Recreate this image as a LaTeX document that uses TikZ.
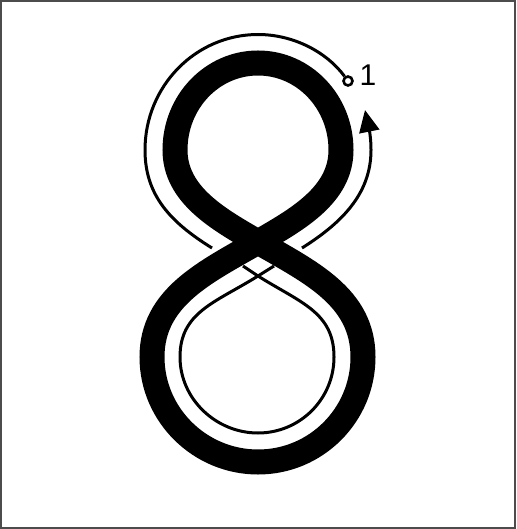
\documentclass[tikz,border=0pt]{standalone}
\usepackage{fontspec}
\setmainfont{Liberation Sans}
\usetikzlibrary{arrows.meta, positioning}

\begin{document}
\begin{tikzpicture}[
  x=1pt, y=-1pt,
  frame/.style={draw=black!70, line width=1.5pt},
  digit/.style={line width=25pt},
  trace/.style={line width=3pt},
  tracearr/.style={trace, -{Triangle[length=22pt, width=20pt]}},
  startdot/.style={circle, draw, line width=2.6pt, fill=white, inner sep=0pt, minimum size=9pt},
  steplabel/.style={font=\fontsize{30}{32}\selectfont, inner sep=0pt}
]
\useasboundingbox (0,0) rectangle (516,529);
\draw[frame] (1,1) rectangle (515,528);

% the figure eight
\coordinate (cross) at (258,242);
\coordinate (upR) at (341,150);
\coordinate (upT) at (258,63);
\coordinate (upL) at (175,150);
\coordinate (loR) at (363,357);
\coordinate (loB) at (258,462);
\coordinate (loL) at (152,357);
\draw[digit] (cross)
  .. controls (297,219.5) and (341,195) .. (upR)
  .. controls (341,102) and (304,63) .. (upT)
  .. controls (212,63) and (175,102) .. (upL)
  .. controls (175,195) and (219,219.5) .. (cross)
  .. controls (310,272) and (363,297) .. (loR)
  .. controls (363,415) and (316,462) .. (loB)
  .. controls (200,462) and (152,415) .. (loL)
  .. controls (152,297) and (206,272) .. cycle;

% stroke order trace
\node[startdot] (start) at (348,81) {};
\node[steplabel] (one) at (368,75) {1};
\coordinate (tT) at (258,34.5);
\coordinate (tL) at (145,150);
\coordinate (gapL) at (212,248);
\coordinate (inA) at (243,266);
\coordinate (tX) at (258,276);
\coordinate (tR) at (334,357);
\coordinate (tB) at (258,433);
\coordinate (tLf) at (180,357);
\coordinate (inB) at (274,266);
\coordinate (gapR) at (302,248);
\coordinate (tRr) at (371,150);
\coordinate (tip) at (365,110);

\draw[trace] (start)
  .. controls (326.6,52) and (293.5,34.5) .. (tT)
  .. controls (195.6,34.5) and (145,86.2) .. (tL)
  .. controls (145,195) and (170,222) .. (gapL);
\draw[trace] (inA) -- (tX)
  .. controls (300,302.5) and (334,312) .. (tR)
  .. controls (334,399) and (300,433) .. (tB)
  .. controls (216,433) and (180,399) .. (tLf)
  .. controls (180,312) and (215.6,302.5) .. (tX) -- (inB);
\draw[tracearr] (gapR)
  .. controls (340,224) and (371,195) .. (tRr)
  .. controls (371,132) and (367,120) .. (tip);

\end{tikzpicture}
\end{document}
